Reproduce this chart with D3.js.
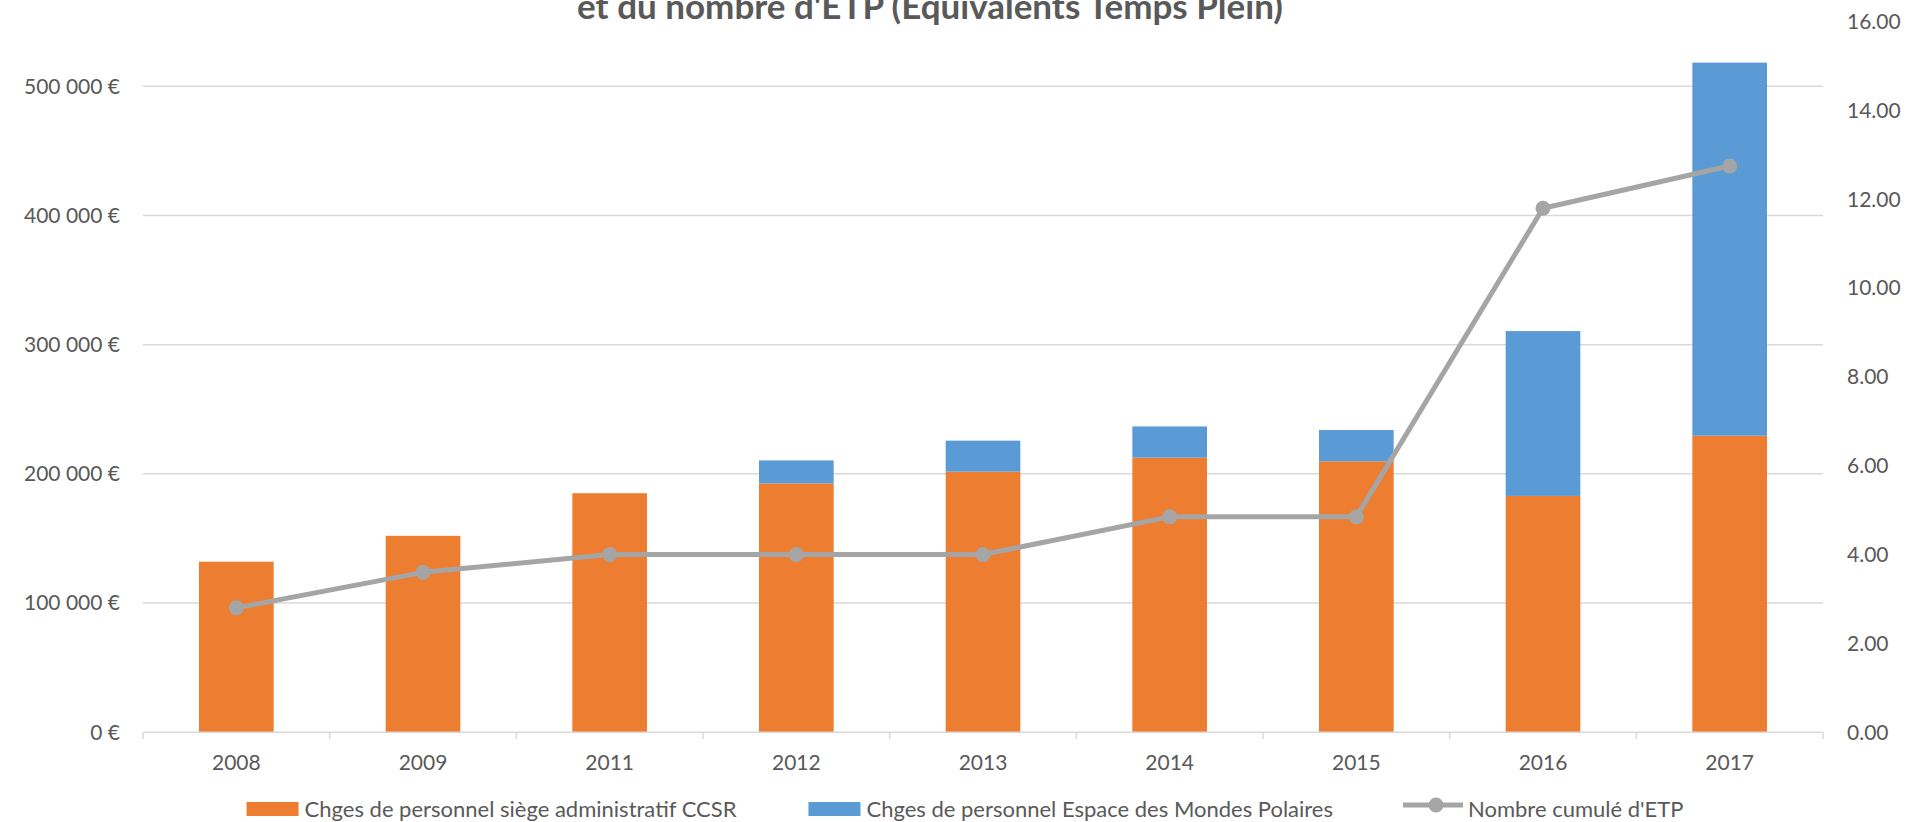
<!DOCTYPE html>
<html>
<head>
<meta charset="utf-8">
<script src="https://cdn.jsdelivr.net/npm/d3@7"></script>
<style>
    html, body { margin: 0; padding: 0; background: #fff; overflow: hidden; }
    text { font-family: Lato, "Open Sans", sans-serif; fill: #595959; }
</style>
</head>
<body>
<div id="chart"></div>
<script>
const years = ["2008", "2009", "2011", "2012", "2013", "2014", "2015", "2016", "2017"];
const siegeCharges = [132000, 152000, 185000, 192600, 201700, 212500, 209700, 182900, 229500];
const polairesCharges = [0, 0, 0, 17800, 24000, 24200, 24200, 127600, 288800];
const etpCumul = [2.8, 3.6, 4.0, 4.0, 4.0, 4.85, 4.85, 11.8, 12.75];
const euroTicks = [0, 100000, 200000, 300000, 400000, 500000];
const etpTicks = [0, 2, 4, 6, 8, 10, 12, 14, 16];
const seriesNames = [
    "Chges de personnel siège administratif CCSR",
    "Chges de personnel Espace des Mondes Polaires",
    "Nombre cumulé d'ETP"
];
const titleText = "et du nombre d'ETP (Equivalents Temps Plein)";

const width = 1917, height = 822;
const margin = { top: 21.7, right: 94, bottom: 90, left: 143 };
const orange = "#ED7D31", blue = "#5B9BD5", grey = "#A5A5A5", grid = "#D9D9D9";

const svg = d3.select("#chart").append("svg")
    .attr("width", width)
    .attr("height", height);

const x = d3.scaleBand()
    .domain(years)
    .range([margin.left, width - margin.right])
    .paddingInner(0.6)
    .paddingOuter(0.3);

const yLeft = d3.scaleLinear()
    .domain([0, 550000])
    .range([height - margin.bottom + 0.2, margin.top]);

const yRight = d3.scaleLinear()
    .domain([0, 16])
    .range([height - margin.bottom + 0.2, margin.top]);

const euro = d3.formatLocale({ decimal: ",", thousands: " ", grouping: [3], currency: ["", " €"] }).format("$,");

// gridlines
svg.append("g")
    .selectAll("line")
    .data(euroTicks.filter(d => d > 0))
    .join("line")
    .attr("x1", margin.left)
    .attr("x2", width - margin.right)
    .attr("y1", d => yLeft(d))
    .attr("y2", d => yLeft(d))
    .attr("stroke", grid)
    .attr("stroke-width", 1.5);

// stacked bars
const rows = years.map((year, i) => ({ year, siege: siegeCharges[i], polaires: polairesCharges[i] }));
const stack = d3.stack().keys(["siege", "polaires"])(rows);
const colors = { siege: orange, polaires: blue };

svg.append("g")
    .selectAll("g")
    .data(stack)
    .join("g")
    .attr("fill", d => colors[d.key])
    .selectAll("rect")
    .data(d => d.filter(p => p[1] > p[0]))
    .join("rect")
    .attr("x", d => x(d.data.year))
    .attr("width", x.bandwidth())
    .attr("y", d => yLeft(d[1]))
    .attr("height", d => yLeft(d[0]) - yLeft(d[1]));

// category axis
const xAxis = svg.append("g")
    .attr("transform", `translate(0, ${yLeft(0)})`);

xAxis.append("line")
    .attr("x1", margin.left)
    .attr("x2", width - margin.right)
    .attr("stroke", grid)
    .attr("stroke-width", 1.5);

const step = x.step();
xAxis.selectAll(".tick-mark")
    .data(d3.range(years.length + 1))
    .join("line")
    .attr("class", "tick-mark")
    .attr("x1", i => margin.left + i * step)
    .attr("x2", i => margin.left + i * step)
    .attr("y1", 0)
    .attr("y2", 7)
    .attr("stroke", grid)
    .attr("stroke-width", 1.5);

xAxis.selectAll(".year")
    .data(years)
    .join("text")
    .attr("class", "year")
    .attr("x", d => x(d) + x.bandwidth() / 2)
    .attr("y", 38)
    .attr("text-anchor", "middle")
    .attr("font-size", "21px")
    .text(d => d);

// left axis labels
svg.append("g")
    .selectAll("text")
    .data(euroTicks)
    .join("text")
    .attr("x", 120)
    .attr("y", d => yLeft(d))
    .attr("dy", "0.35em")
    .attr("text-anchor", "end")
    .attr("font-size", "21px")
    .text(d => euro(d));

// right axis labels
svg.append("g")
    .selectAll("text")
    .data(etpTicks)
    .join("text")
    .attr("x", 1847)
    .attr("y", d => yRight(d))
    .attr("dy", "0.35em")
    .attr("font-size", "21px")
    .text(d => d3.format(".2f")(d));

// ETP line
const etpPoints = years.map((year, i) => ({ year, value: etpCumul[i] }));
const line = d3.line()
    .x(d => x(d.year) + x.bandwidth() / 2)
    .y(d => yRight(d.value));

svg.append("path")
    .datum(etpPoints)
    .attr("d", line)
    .attr("fill", "none")
    .attr("stroke", grey)
    .attr("stroke-width", 5)
    .attr("stroke-linejoin", "round");

svg.append("g")
    .selectAll("circle")
    .data(etpPoints)
    .join("circle")
    .attr("cx", d => x(d.year) + x.bandwidth() / 2)
    .attr("cy", d => yRight(d.value))
    .attr("r", 7.5)
    .attr("fill", grey);

// title, its first line lies above the picture as in the original
svg.append("text")
    .attr("x", 930)
    .attr("y", 19)
    .attr("text-anchor", "middle")
    .attr("font-size", "35px")
    .attr("font-weight", "bold")
    .text(titleText);

// legend
const legend = svg.append("g");
let cursor = 0;
seriesNames.forEach((name, i) => {
    const item = legend.append("g").attr("transform", `translate(${cursor}, 0)`);
    if (i < 2) {
        item.append("rect")
            .attr("x", 0)
            .attr("y", 0)
            .attr("width", 52)
            .attr("height", 14)
            .attr("fill", i === 0 ? orange : blue);
    } else {
        item.append("line")
            .attr("x1", 0)
            .attr("x2", 60)
            .attr("y1", 3)
            .attr("y2", 3)
            .attr("stroke", grey)
            .attr("stroke-width", 5);
        item.append("circle")
            .attr("cx", 33)
            .attr("cy", 3)
            .attr("r", 7.5)
            .attr("fill", grey);
    }
    const offset = i < 2 ? 58 : 65;
    const label = item.append("text")
        .attr("x", offset)
        .attr("y", 15)
        .attr("font-size", "22px")
        .text(name);
    cursor += offset + label.node().getComputedTextLength() + (i === 0 ? 72 : 70);
});
const legendWidth = legend.node().getBBox().width;
legend.attr("transform", `translate(${965 - legendWidth / 2}, 802)`);
</script>
</body>
</html>
